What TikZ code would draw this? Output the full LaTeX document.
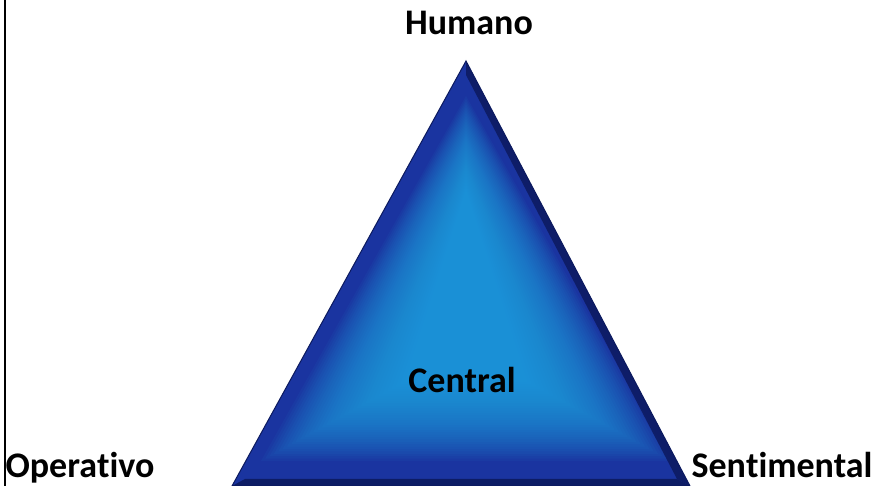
\documentclass[tikz,border=0pt]{standalone}
\usepackage{fontspec}
\setmainfont{Carlito}[Ligatures={NoCommon}]
\begin{document}
\begin{tikzpicture}[x=1pt,y=1pt,
  lbl/.style={font=\fontsize{36}{42}\selectfont\bfseries, text=black, inner sep=0pt, anchor=base}]
\definecolor{tridark}{RGB}{26,52,160}
\definecolor{trilight}{RGB}{40,170,232}
\definecolor{bevdark}{RGB}{12,26,95}
\useasboundingbox (0,0) rectangle (881,486);
\fill[white] (0,0) rectangle (881,486);
\draw[line width=1.5pt] (5,0) -- (5,486);
% triangle
\coordinate (A) at (466,425);
\coordinate (L) at (232,0);
\coordinate (R) at (690,0);
\coordinate (Ai) at (466,411);
\coordinate (Li) at (245,7);
\coordinate (Ri) at (677,7);
\begin{scope}
\clip (A) -- (L) -- (R) -- cycle;
\fill[tridark] (A) -- (L) -- (R) -- cycle;
\foreach \t in {0,0.03,...,1.0}{
  \pgfmathsetmacro{\ta}{390-95*\t}
  \pgfmathsetmacro{\tb}{25+80*\t}
  \pgfmathsetmacro{\tw}{205-145*\t}
  \fill[trilight, opacity=0.055] (466,\ta) -- (466-\tw,\tb) -- (466+\tw,\tb) -- cycle;
}
\end{scope}
% bevels
\fill[bevdark, opacity=0.85] (A) -- (R) -- (Ri) -- (Ai) -- cycle;
\fill[bevdark, opacity=0.9] (L) -- (R) -- (Ri) -- (Li) -- cycle;
\draw[bevdark, line width=1pt, line join=miter] (R) -- (L) -- (A) -- (R);
% labels
\node[lbl] (hum) at (469,451) {Humano};
\node[lbl] (cen) at (462,93) {Central};
\node[lbl] (ope) at (80,8) {Opera\kern0pt tivo};
\node[lbl] (sen) at (782,8) {Sen\kern0pt timental};
\end{tikzpicture}
\end{document}
